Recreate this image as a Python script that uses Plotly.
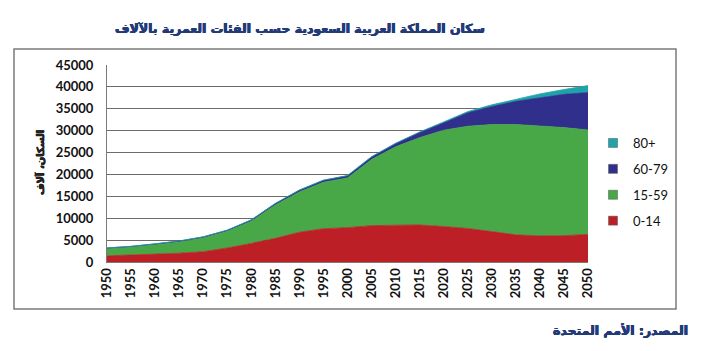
import plotly.graph_objects as go

years = list(range(1950, 2051, 5))
age_0_14 = [1400, 1550, 1760, 2000, 2350, 3200, 4250, 5400, 6800, 7600, 7850,
            8300, 8400, 8450, 8100, 7650, 6950, 6200, 5950, 6000, 6300]
age_15_59 = [1650, 1850, 2190, 2580, 3150, 3800, 5050, 7600, 9200, 10600, 11350,
             15100, 17900, 19950, 22000, 23350, 24450, 25200, 25100, 24700, 23850]
age_60_79 = [150, 160, 180, 200, 220, 250, 300, 350, 400, 450, 500,
             600, 750, 1200, 1700, 3100, 4100, 5300, 6450, 7600, 8550]
age_80p = [10, 20, 20, 20, 30, 30, 30, 40, 40, 50, 50,
           50, 70, 100, 200, 250, 400, 500, 900, 1100, 1600]

series = [
    ("0-14", age_0_14, "#BD1F27"),
    ("15-59", age_15_59, "#48A848"),
    ("60-79", age_60_79, "#302F8C"),
    ("80+", age_80p, "#1FA3AA"),
]

y_ticks = list(range(0, 45001, 5000))

fig = go.Figure()
for name, vals, col in series:
    fig.add_trace(go.Scatter(
        x=years, y=vals, name=name, mode="lines", stackgroup="one",
        line=dict(color=col, width=0.8), fillcolor=col, showlegend=False,
    ))
for name, vals, col in reversed(series):
    fig.add_trace(go.Scatter(
        x=[None], y=[None], name=name, mode="markers", legendgroup=name,
        marker=dict(symbol="square", size=9, color=col, line=dict(color="#555555", width=0.5)),
    ))

L, R, T, B = 107, 588, 65, 262
W, H = 702, 351

def px(x):
    return (x - L) / (R - L)

def py(y):
    return (B - y) / (B - T)

def bold_shadow(c):
    return f"0.45px 0 0 {c}, -0.45px 0 0 {c}, 0 0.3px 0 {c}"

fig.add_shape(type="rect", xref="paper", yref="paper",
              x0=px(14), x1=px(676), y0=py(309), y1=py(49),
              line=dict(color="#7F7A78", width=1.5), layer="below")

fig.add_annotation(text="<b>سكان المملكة العربية السعودية حسب الفئات العمرية بالآلاف</b>",
                   xref="paper", yref="paper", x=px(300), y=py(28),
                   showarrow=False,
                   font=dict(size=12.5, color="#233A78", family="DejaVu Sans", weight=900,
                             shadow=bold_shadow("#233A78")),
                   xanchor="center", yanchor="middle")
fig.add_annotation(text="<b>السكان، آلاف</b>", xref="paper", yref="paper",
                   x=px(40), y=py(163), textangle=-90, showarrow=False,
                   font=dict(size=10, color="#222222", family="DejaVu Sans", weight=900,
                             shadow=bold_shadow("#222222")),
                   xanchor="center", yanchor="middle")
fig.add_annotation(text="<b>المصدر: الأمم المتحدة</b>", xref="paper", yref="paper",
                   x=px(690), y=py(330), showarrow=False,
                   font=dict(size=12.5, color="#233A78", family="DejaVu Sans", weight=900,
                             shadow=bold_shadow("#233A78")),
                   xanchor="right", yanchor="middle")

fig.update_layout(
    width=W, height=H,
    margin=dict(l=L, r=W - R, t=T, b=H - B),
    paper_bgcolor="white", plot_bgcolor="white",
    showlegend=True,
    legend=dict(x=px(593), y=py(128), xanchor="left", yanchor="top",
                traceorder="grouped", font=dict(size=13, family="Lato", color="#111111"),
                itemwidth=30, tracegroupgap=6, bgcolor="rgba(0,0,0,0)"),
    font=dict(family="Lato", color="#111111"),
)
fig.update_xaxes(range=[1950, 2050], tickvals=years, ticktext=[f"<b>{y}</b>" for y in years],
                 tickangle=-90, tickfont=dict(size=13, family="Lato", color="#111111"),
                 showgrid=False, zeroline=False, showline=True, linecolor="#7F7A78",
                 ticks="", fixedrange=True)
fig.update_yaxes(range=[0, 45000], tickvals=y_ticks, ticktext=[f"<b>{v}</b>" for v in y_ticks],
                 tickfont=dict(size=13, family="Lato", color="#111111"),
                 showgrid=True, gridcolor="#6E6A68", gridwidth=1,
                 zeroline=False, showline=True, linecolor="#7F7A78",
                 ticks="", ticklen=0, ticklabelstandoff=10, fixedrange=True)

fig.write_html("out.html")
